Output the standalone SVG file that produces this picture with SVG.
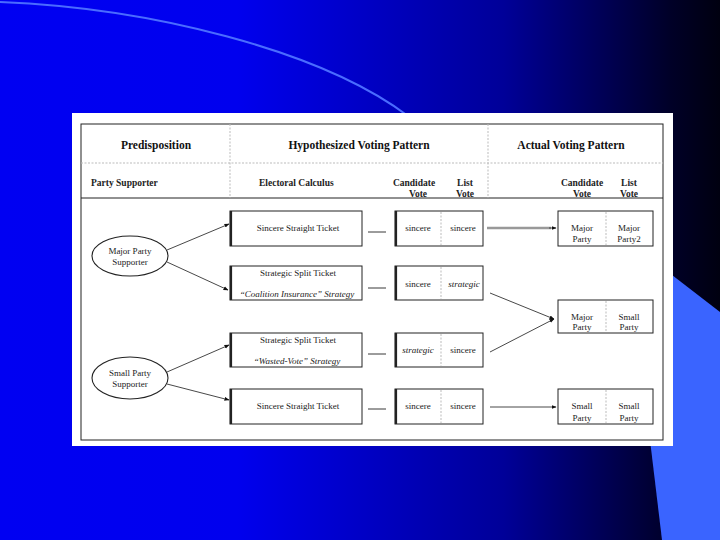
<svg xmlns="http://www.w3.org/2000/svg" width="720" height="540" viewBox="0 0 720 540">
<defs>
<linearGradient id="bg" x1="0" y1="0" x2="1" y2="0">
<stop offset="0" stop-color="#0000f2"/>
<stop offset="0.33" stop-color="#0000ee"/>
<stop offset="0.7" stop-color="#000098"/>
<stop offset="0.93" stop-color="#000028"/>
<stop offset="1" stop-color="#000010"/>
</linearGradient>
<marker id="ah" viewBox="0 0 10 10" refX="9" refY="5" markerWidth="5" markerHeight="5" orient="auto" markerUnits="userSpaceOnUse">
<path d="M0,1 L10,5 L0,9 Z" fill="#111"/>
</marker>
<style>
.hd{font-family:"Liberation Serif",serif;font-size:11.5px;font-weight:bold;fill:#111;text-anchor:middle}
.sh{font-family:"Liberation Serif",serif;font-size:9.5px;font-weight:bold;fill:#222}
.t{font-family:"Liberation Serif",serif;font-size:9px;fill:#222;text-anchor:middle}
.it{font-style:italic}
.box{fill:#fff;stroke:#222;stroke-width:1}
.lb{stroke:#222;stroke-width:2.2}
.dv{stroke:#bbb;stroke-width:1;stroke-dasharray:2,1.5}
.con{stroke:#333;stroke-width:0.9;fill:none}
.dash{stroke:#222;stroke-width:0.9}
</style>
</defs>
<rect x="0" y="0" width="720" height="540" fill="url(#bg)"/>
<path d="M0,2 C150,8 320,50 408,116" fill="none" stroke="#4a6cff" stroke-width="2"/>
<path d="M672,275 L720,312 L720,540 L662,540 Q656,490 650,440 L650,275 Z" fill="#3a64ff"/>
<rect x="72" y="113" width="601" height="333" fill="#fff"/>
<g id="frame">
<rect x="81" y="124" width="582" height="316" fill="none" stroke="#222" stroke-width="1"/>
<line x1="81" y1="163" x2="663" y2="163" stroke="#bbb" stroke-width="1" stroke-dasharray="2,1.5"/>
<line x1="81" y1="198" x2="663" y2="198" stroke="#222" stroke-width="1"/>
<line x1="230" y1="124" x2="230" y2="198" class="dv"/>
<line x1="488" y1="124" x2="488" y2="198" class="dv"/>
<text class="hd" x="156" y="149">Predisposition</text>
<text class="hd" x="359" y="149">Hypothesized Voting Pattern</text>
<text class="hd" x="571" y="149">Actual Voting Pattern</text>
<text class="sh" x="91" y="186">Party Supporter</text>
<text class="sh" x="259" y="186">Electoral Calculus</text>
<text class="sh" x="414" y="186" text-anchor="middle">Candidate</text>
<text class="sh" x="418" y="197" text-anchor="middle">Vote</text>
<text class="sh" x="465" y="186" text-anchor="middle">List</text>
<text class="sh" x="465" y="197" text-anchor="middle">Vote</text>
<text class="sh" x="582" y="186" text-anchor="middle">Candidate</text>
<text class="sh" x="582" y="197" text-anchor="middle">Vote</text>
<text class="sh" x="629" y="186" text-anchor="middle">List</text>
<text class="sh" x="629" y="197" text-anchor="middle">Vote</text>
</g>
<g id="major-supporter">
<ellipse cx="130" cy="256" rx="38" ry="20" fill="#fff" stroke="#222" stroke-width="1.1"/>
<text class="t" x="130" y="254">Major Party</text>
<text class="t" x="130" y="265">Supporter</text>
</g>
<g id="small-supporter">
<ellipse cx="130" cy="378" rx="38" ry="21" fill="#fff" stroke="#222" stroke-width="1.1"/>
<text class="t" x="130" y="376">Small Party</text>
<text class="t" x="130" y="387">Supporter</text>
</g>
<g id="calc1">
<rect class="box" x="230" y="211" width="132" height="35"/>
<line class="lb" x1="231" y1="211" x2="231" y2="246"/>
<text class="t" x="298" y="231">Sincere Straight Ticket</text>
</g>
<g id="calc2">
<rect class="box" x="230" y="266" width="132" height="34"/>
<line class="lb" x1="231" y1="266" x2="231" y2="300"/>
<text class="t" x="298" y="276">Strategic Split Ticket</text>
<text class="t it" x="297" y="297">“Coalition Insurance” Strategy</text>
</g>
<g id="calc3">
<rect class="box" x="230" y="333" width="132" height="34"/>
<line class="lb" x1="231" y1="333" x2="231" y2="367"/>
<text class="t" x="298" y="343">Strategic Split Ticket</text>
<text class="t it" x="297" y="364">“Wasted-Vote” Strategy</text>
</g>
<g id="calc4">
<rect class="box" x="230" y="389" width="132" height="35"/>
<line class="lb" x1="231" y1="389" x2="231" y2="424"/>
<text class="t" x="298" y="409">Sincere Straight Ticket</text>
</g>
<g id="vote1">
<rect class="box" x="395" y="211" width="88" height="35"/>
<line class="lb" x1="396" y1="211" x2="396" y2="246"/>
<line class="dv" x1="441" y1="212" x2="441" y2="245"/>
<text class="t" x="418" y="231">sincere</text>
<text class="t" x="463" y="231">sincere</text>
</g>
<g id="vote2">
<rect class="box" x="395" y="266" width="88" height="34"/>
<line class="lb" x1="396" y1="266" x2="396" y2="300"/>
<line class="dv" x1="441" y1="267" x2="441" y2="299"/>
<text class="t" x="418" y="287">sincere</text>
<text class="t it" x="464" y="287">strategic</text>
</g>
<g id="vote3">
<rect class="box" x="395" y="333" width="88" height="34"/>
<line class="lb" x1="396" y1="333" x2="396" y2="367"/>
<line class="dv" x1="441" y1="334" x2="441" y2="366"/>
<text class="t it" x="418" y="353">strategic</text>
<text class="t" x="463" y="353">sincere</text>
</g>
<g id="vote4">
<rect class="box" x="395" y="389" width="88" height="35"/>
<line class="lb" x1="396" y1="389" x2="396" y2="424"/>
<line class="dv" x1="441" y1="390" x2="441" y2="423"/>
<text class="t" x="418" y="409">sincere</text>
<text class="t" x="463" y="409">sincere</text>
</g>
<g id="actual1">
<rect class="box" x="558" y="211" width="95" height="35"/>
<line class="dv" x1="606" y1="212" x2="606" y2="245"/>
<text class="t" x="582" y="231">Major</text>
<text class="t" x="582" y="242">Party</text>
<text class="t" x="629" y="231">Major</text>
<text class="t" x="629" y="242">Party2</text>
</g>
<g id="actual2">
<rect class="box" x="558" y="300" width="95" height="33"/>
<line class="dv" x1="606" y1="301" x2="606" y2="332"/>
<text class="t" x="582" y="320">Major</text>
<text class="t" x="582" y="330">Party</text>
<text class="t" x="629" y="320">Small</text>
<text class="t" x="629" y="330">Party</text>
</g>
<g id="actual3">
<rect class="box" x="558" y="389" width="95" height="35"/>
<line class="dv" x1="606" y1="390" x2="606" y2="423"/>
<text class="t" x="582" y="409">Small</text>
<text class="t" x="582" y="421">Party</text>
<text class="t" x="629" y="409">Small</text>
<text class="t" x="629" y="421">Party</text>
</g>
<g id="connectors">
<line class="con" x1="167" y1="250" x2="229" y2="224" marker-end="url(#ah)"/>
<line class="con" x1="167" y1="262" x2="228" y2="290" marker-end="url(#ah)"/>
<line class="con" x1="167" y1="372" x2="229" y2="345" marker-end="url(#ah)"/>
<line class="con" x1="167" y1="384" x2="229" y2="400" marker-end="url(#ah)"/>
<line class="dash" x1="368" y1="232" x2="386" y2="232"/>
<line class="dash" x1="368" y1="288" x2="386" y2="288"/>
<line class="dash" x1="368" y1="354" x2="386" y2="354"/>
<line class="dash" x1="368" y1="409" x2="386" y2="409"/>
<line x1="487" y1="228" x2="551" y2="228" stroke="#999" stroke-width="2.5"/>
<line class="con" x1="549" y1="228" x2="556" y2="228" marker-end="url(#ah)"/>
<line class="con" x1="490" y1="293" x2="554" y2="319" marker-end="url(#ah)"/>
<line class="con" x1="490" y1="352" x2="554" y2="319" marker-end="url(#ah)"/>
<line class="con" x1="490" y1="407" x2="556" y2="407" marker-end="url(#ah)"/>
</g>
</svg>
